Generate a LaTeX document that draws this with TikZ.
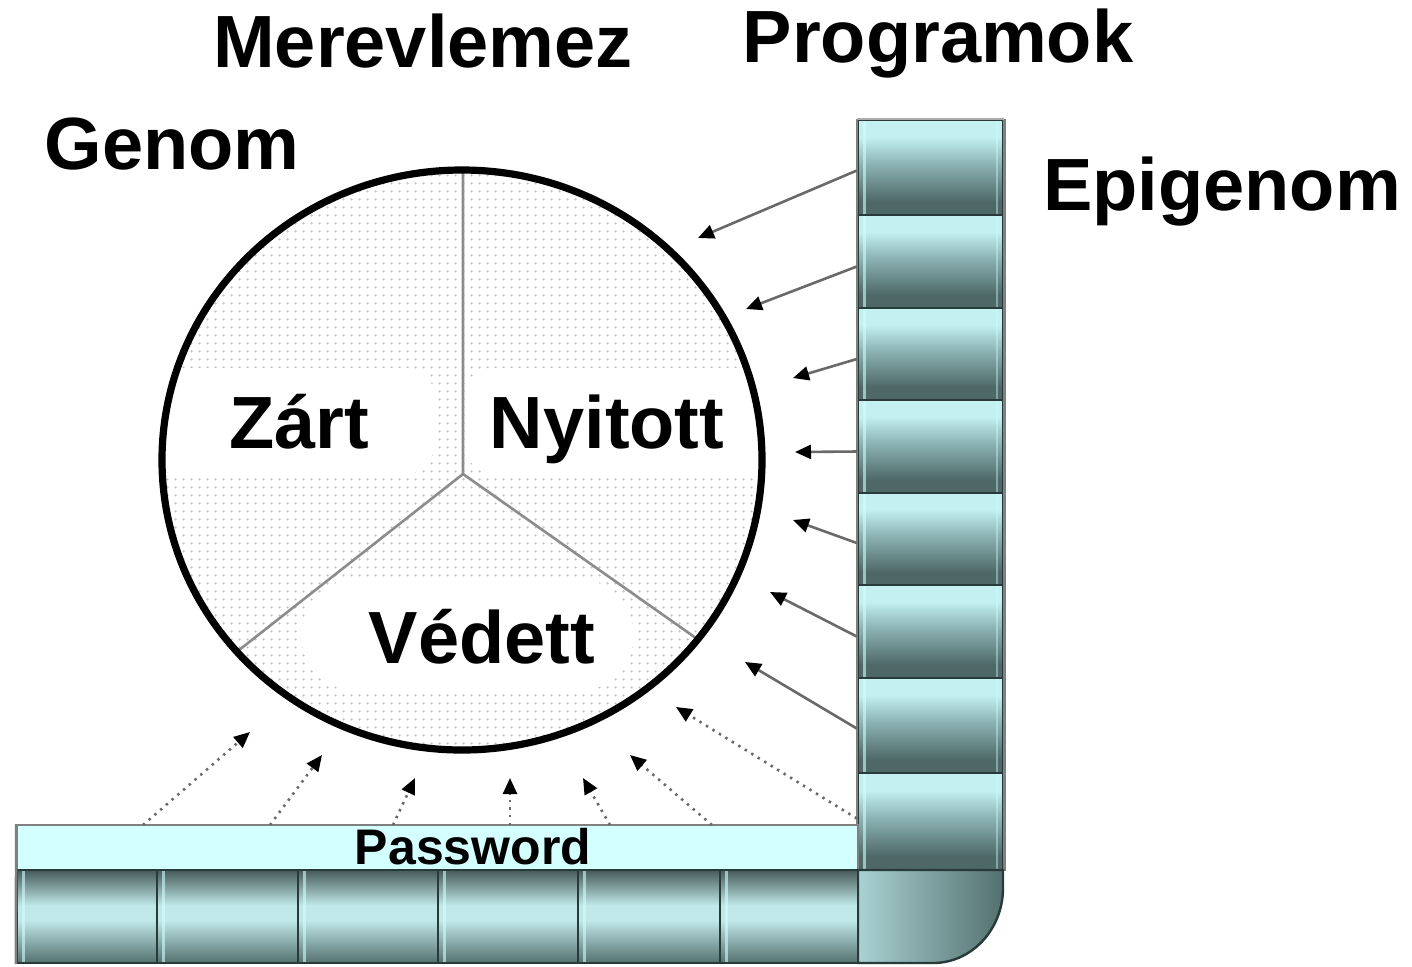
\documentclass[tikz,border=0pt]{standalone}
\usepackage{fontspec}
\setmainfont{Liberation Sans}
\usetikzlibrary{arrows.meta,patterns.meta}
\definecolor{arr}{RGB}{105,105,105}
\definecolor{bdark}{RGB}{40,58,58}
\definecolor{stripe}{RGB}{208,255,255}
\definecolor{pwfill}{RGB}{212,255,255}
\definecolor{vtop}{RGB}{196,240,240}
\definecolor{vmid}{RGB}{140,180,180}
\definecolor{vbot}{RGB}{78,104,104}
\definecolor{htop}{RGB}{70,90,90}
\definecolor{hlight}{RGB}{192,232,232}
\definecolor{hbot}{RGB}{84,112,112}
\definecolor{cleft}{RGB}{170,210,210}
\definecolor{cright}{RGB}{84,112,112}
\definecolor{edge}{RGB}{128,128,128}
\definecolor{divider}{RGB}{140,140,140}
\pgfdeclareverticalshading{hblock}{100bp}{color(0bp)=(hbot); color(25bp)=(hbot); color(48bp)=(hlight); color(56bp)=(hlight); color(75bp)=(htop); color(100bp)=(htop)}
\pgfdeclareverticalshading{vblock}{100bp}{color(0bp)=(vbot); color(25bp)=(vbot); color(32bp)=(vbot); color(52bp)=(vmid); color(66bp)=(vtop); color(75bp)=(vtop); color(100bp)=(vtop)}
\tikzset{
  big/.style={font=\fontsize{37}{37}\bfseries\selectfont, inner sep=0pt, anchor=base},
  vblk/.style={draw=bdark, line width=1.2pt, shading=vblock, minimum width=72.5pt, inner sep=0pt,
    path picture={\draw[stripe, opacity=.6, line width=1.5pt] ([xshift=3pt]path picture bounding box.north west) -- ([xshift=3pt]path picture bounding box.south west);
                  \draw[stripe, opacity=.4, line width=1.2pt] ([xshift=-3pt]path picture bounding box.north east) -- ([xshift=-3pt]path picture bounding box.south east);}},
  hblk/.style={draw=bdark, line width=1.2pt, shading=hblock, minimum height=46.5pt, inner sep=0pt,
    path picture={\draw[stripe, opacity=.6, line width=1.5pt] ([xshift=3pt]path picture bounding box.north west) -- ([xshift=3pt]path picture bounding box.south west);}},
  solidarr/.style={draw=arr, line width=1.3pt, -{Triangle[length=8pt,width=7pt,fill=black,color=black]}},
  dotarr/.style={draw=arr, line width=1.3pt, dash pattern=on 1.2pt off 2.6pt, -{Triangle[length=8pt,width=7pt,fill=black,color=black]}}
}
\begin{document}
\begin{tikzpicture}[x=0.5pt,y=-0.5pt]
\useasboundingbox (0,0) rectangle (1412,966);

% titles
\node[big] (merev) at (423,67) {Merevlemez};
\node[big] (prog) at (938,62) {Programok};
\node[big] (genom) at (172,169) {Genom};
\node[big] (epi) at (1222,210) {Epigenom};

% circle
\fill[pattern={Dots[distance=4pt,radius=0.7pt]}, pattern color=gray!50] (462,460) ellipse [x radius=300, y radius=290];
\begin{scope}
  \clip (462,460) ellipse [x radius=300, y radius=290];
  \fill[white, rounded corners=12pt] (150,368) rectangle (433,473);
  \fill[white, rounded corners=12pt] (467,368) rectangle (790,473);
  \fill[white, rounded corners=26pt] (302,580) rectangle (633,690);
  \draw[divider, line width=1.3pt] (463,150) -- (463,474) -- (720,655);
  \draw[divider, line width=1.3pt] (463,474) -- (220,665);
\end{scope}
\draw[black, line width=3.6pt] (462,460) ellipse [x radius=300, y radius=290];

\node[big] (zart) at (299,448) {Zárt};
\node[big] (nyitott) at (607,448) {Nyitott};
\node[big] (vedett) at (482,663) {Védett};

% right column
\node[vblk, minimum height=47.5pt] (r1) at (930.5,167.5) {};
\node[vblk, minimum height=46.5pt] (r2) at (930.5,261.5) {};
\node[vblk, minimum height=46pt]   (r3) at (930.5,354) {};
\node[vblk, minimum height=46.5pt] (r4) at (930.5,446.5) {};
\node[vblk, minimum height=46pt]   (r5) at (930.5,539) {};
\node[vblk, minimum height=46.5pt] (r6) at (930.5,631.5) {};
\node[vblk, minimum height=47.5pt] (r7) at (930.5,725.5) {};
\node[vblk, minimum height=48.5pt] (r8) at (930.5,821.5) {};
\draw[edge, line width=1.3pt] (r1.north west) -- (r8.south west);
\draw[edge, line width=1.3pt] (r1.north east) -- (r8.south east);
\draw[gray!65, line width=1.3pt] (r1.north west) -- (r1.north east);

% corner
\shade[left color=cleft, right color=cright, draw=bdark, line width=1.2pt]
  (858,870) -- (1003,870) -- (1003,888) arc[start angle=0, end angle=-90, x radius=35pt, y radius=37.5pt] -- (858,963) -- cycle;

% password bar
\node[draw=edge, fill=pwfill, line width=0.8pt, minimum width=420.5pt, minimum height=22.5pt, inner sep=0pt] (pw) at (437.5,847.5) {};
\node[font=\fontsize{25}{25}\bfseries\selectfont, inner sep=0pt, anchor=base] (pwl) at (473,864) {Password};

% bottom row
\node[hblk, minimum width=70pt]   (b1) at (87,916.5) {};
\node[hblk, minimum width=70.5pt] (b2) at (227.5,916.5) {};
\node[hblk, minimum width=70pt]   (b3) at (368,916.5) {};
\node[hblk, minimum width=70pt]   (b4) at (508,916.5) {};
\node[hblk, minimum width=71pt]   (b5) at (649,916.5) {};
\node[hblk, minimum width=69pt]   (b6) at (789,916.5) {};
\draw[edge, line width=1.3pt] (pw.north west) -- (b1.south west);

% arrow ends
\coordinate (h1) at (698,238);
\coordinate (h2) at (746,309);
\coordinate (h3) at (793,378);
\coordinate (h4) at (795,452);
\coordinate (h5) at (793,520);
\coordinate (h6) at (770,592);
\coordinate (h7) at (745,662);
\coordinate (h8) at (676,707);
\coordinate (t1) at (143,825);
\coordinate (t2) at (270,825);
\coordinate (t3) at (393,825);
\coordinate (t4) at (510,825);
\coordinate (t5) at (610,825);
\coordinate (t6) at (712,825);
\coordinate (g1) at (250,732);
\coordinate (g2) at (322,755);
\coordinate (g3) at (415,778);
\coordinate (g4) at (510,778);
\coordinate (g5) at (583,778);
\coordinate (g6) at (630,755);

\draw[solidarr] ([yshift=-1.5pt]r1.west) -- (h1);
\draw[solidarr] ([yshift=-2.5pt]r2.west) -- (h2);
\draw[solidarr] ([yshift=-2.5pt]r3.west) -- (h3);
\draw[solidarr] ([yshift=-2.5pt]r4.west) -- (h4);
\draw[solidarr] ([yshift=-2pt]r5.west) -- (h5);
\draw[solidarr] ([yshift=-2.5pt]r6.west) -- (h6);
\draw[solidarr] ([yshift=-1.5pt]r7.west) -- (h7);
\draw[dotarr] ([yshift=1.5pt]r8.west) -- (h8);
\draw[dotarr] (t1) -- (g1);
\draw[dotarr] (t2) -- (g2);
\draw[dotarr] (t3) -- (g3);
\draw[dotarr] (t4) -- (g4);
\draw[dotarr] (t5) -- (g5);
\draw[dotarr] (t6) -- (g6);
\end{tikzpicture}
\end{document}
